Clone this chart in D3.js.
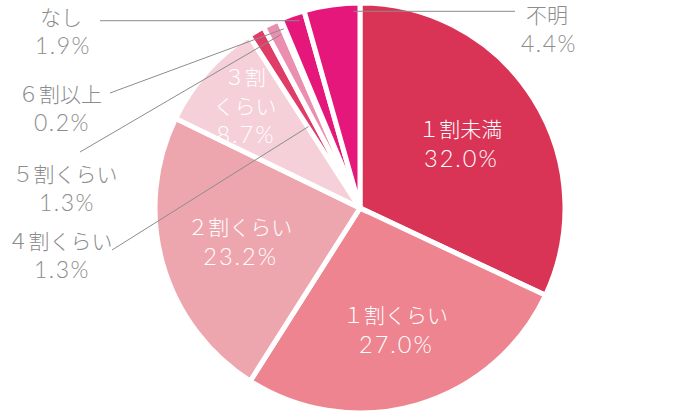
<!DOCTYPE html>
<html>
<head>
<meta charset="utf-8">
<script src="https://cdn.jsdelivr.net/npm/d3@7"></script>
<style>
  body { margin: 0; background: #fff; }
  text { font-family: "Noto Sans CJK JP", "Noto Sans", sans-serif; font-weight: 300; }
  text.pct { font-family: Lato, "Noto Sans", sans-serif; font-weight: 300; }
</style>
</head>
<body>
<div id="chart"></div>
<script>

// DATA //
var categories = ["１割未満", "１割くらい", "２割くらい", "３割くらい", "４割くらい", "５割くらい", "６割以上", "なし", "不明"];
var values = [32.0, 27.0, 23.2, 8.7, 1.3, 1.3, 0.2, 1.9, 4.4];
var colors = ["#d93456", "#ed848f", "#eea6ae", "#f5d0d8", "#df3d67", "#ea8fb0", "#e4578c", "#e5177a", "#e5177a"];

// labels drawn inside the slice: line breaks and distance from centre
var insideLabels = {
	"１割未満": {lines: ["１割未満"], k: 0.58},
	"１割くらい": {lines: ["１割くらい"], k: 0.62},
	"２割くらい": {lines: ["２割くらい"], k: 0.61},
	"３割くらい": {lines: ["３割", "くらい"], k: 0.75}
};

// labels drawn outside with a leader line
var outsideLabels = {
	"４割くらい": {x: 60, y: 249, lx: 112, ly: 250, t: 0.1, k: 0.47},
	"５割くらい": {x: 65, y: 182, lx: 80, ly: 152, t: 0.78, k: 0.93},
	"６割以上": {x: 60, y: 102, lx: 110, ly: 93, t: 0.5, k: 0.95},
	"なし": {x: 61, y: 25, lx: 100, flat: true, t: 0.7, k: 0.96},
	"不明": {x: 547, y: 23, lx: 515, flat: true, t: 0.88, k: 0.96}
};

var width = 690, height = 418;
var cx = 360, cy = 208, radius = 205;
var lineGap = 29;

var svg = d3.select("#chart").append("svg")
	.attr("width", width)
	.attr("height", height);

var g = svg.append("g")
	.attr("transform", "translate(" + cx + "," + cy + ")");

var pie = d3.pie().sort(null).value(function(d) { return d.value; });
var data = categories.map(function(c, i) { return {name: c, value: values[i], color: colors[i]}; });
var arcs = pie(data);

var arc = d3.arc().innerRadius(0).outerRadius(radius);

// DRAW SLICES //
g.selectAll(".slice")
	.data(arcs)
	.enter().append("path")
	.attr("class", "slice")
	.attr("d", arc)
	.attr("fill", function(d) { return d.data.color; })
	.attr("stroke", "#fff")
	.attr("stroke-width", 5)
	.attr("stroke-linejoin", "miter");

function polar(a, r) {
	return [r * Math.sin(a), -r * Math.cos(a)];
}

// INSIDE LABELS //
arcs.forEach(function(d) {
	var lab = insideLabels[d.data.name];
	if (!lab) return;
	var mid = (d.startAngle + d.endAngle) / 2;
	var p = polar(mid, radius * lab.k);
	var rows = lab.lines.map(function(l) { return {text: l, size: 21, ls: 0, cls: ""}; });
	rows.push({text: d.data.value.toFixed(1) + "%", size: 23.5, ls: 2, cls: "pct"});
	var top = p[1] - (rows.length - 1) * lineGap / 2;
	rows.forEach(function(r, i) {
		g.append("text")
			.attr("class", r.cls)
			.attr("x", p[0] + r.ls / 2)
			.attr("y", top + i * lineGap)
			.attr("dy", "0.36em")
			.attr("text-anchor", "middle")
			.attr("fill", "#fff")
			.style("font-size", r.size + "px")
			.style("letter-spacing", r.ls + "px")
			.text(r.text);
	});
});

// OUTSIDE LABELS + LEADERS //
arcs.forEach(function(d) {
	var lab = outsideLabels[d.data.name];
	if (!lab) return;
	var a = d.startAngle + (d.endAngle - d.startAngle) * lab.t;
	var p = polar(a, radius * lab.k);
	var ex = cx + p[0], ey = cy + p[1];
	var ly = lab.flat ? ey : lab.ly;

	svg.append("line")
		.attr("x1", lab.lx).attr("y1", ly)
		.attr("x2", ex).attr("y2", ey)
		.attr("stroke", "#8c8c8c")
		.attr("stroke-width", 1);

	svg.append("text")
		.attr("x", lab.x)
		.attr("y", lab.y)
		.attr("text-anchor", "middle")
		.attr("fill", "#8c8c8c")
		.style("font-size", "21px")
		.text(d.data.name);

	svg.append("text")
		.attr("class", "pct")
		.attr("x", lab.x + 2)
		.attr("y", lab.y + lineGap)
		.attr("text-anchor", "middle")
		.attr("fill", "#8c8c8c")
		.style("font-size", "23px")
		.style("letter-spacing", "1.5px")
		.text(d.data.value.toFixed(1) + "%");
});

</script>
</body>
</html>
